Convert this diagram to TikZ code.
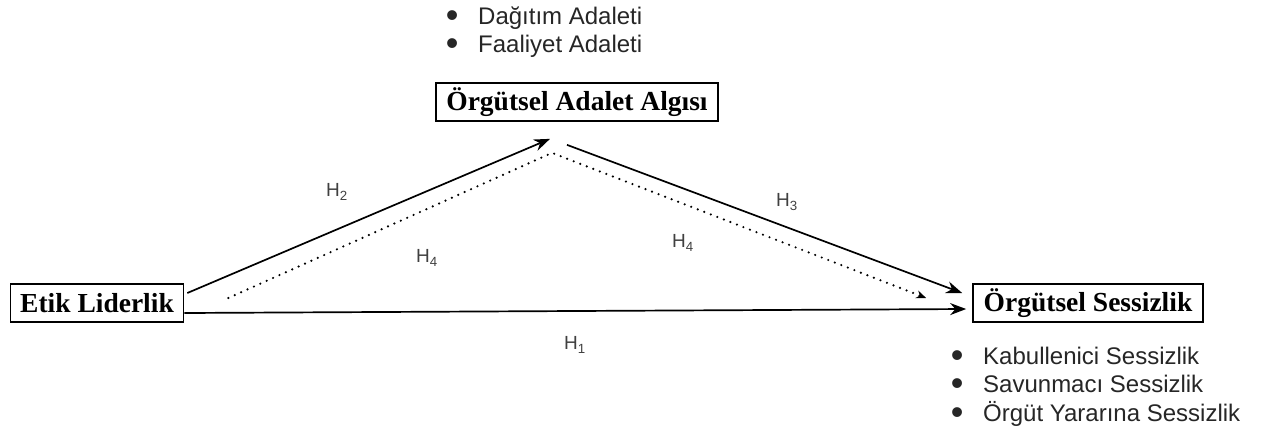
\documentclass[tikz,border=0pt]{standalone}
\usepackage{fontspec}
\setmainfont{Liberation Serif}
\setsansfont{Liberation Sans}
\usetikzlibrary{arrows.meta}
\newcommand{\bulitem}[1]{\makebox[0pt]{\raisebox{-3pt}{\scalebox{1.5}{•}}}\hspace{26pt}#1}
\begin{document}
\begin{tikzpicture}[x=1pt,y=-1pt,
  box/.style={draw, line width=1.7pt, font=\fontsize{27.5}{30}\selectfont\bfseries, inner sep=0pt, minimum height=38pt},
  arr/.style={line width=1.7pt, -{Stealth[length=16pt,width=12pt]}},
  dotarr/.style={line width=2.4pt, line cap=round, dash pattern=on 0pt off 7pt, -{Stealth[length=10pt,width=8pt]}},
  hlab/.style={font=\sffamily\fontsize{19}{22}\selectfont, text=black!75},
  blist/.style={font=\sffamily\fontsize{24}{28.5}\selectfont, text=black!85, inner sep=0pt, anchor=base west}
]
\useasboundingbox (0,0) rectangle (1263,429);

\node[box, minimum width=173pt] (etik) at (97,303) {Etik Liderlik};
\node[box, minimum width=282pt] (adalet) at (577,102) {Örgütsel Adalet Algısı};
\node[box, minimum width=230pt] (sess) at (1088,303) {Örgütsel Sessizlik};

\node[blist] (l1) at (452,24) {\begin{tabular}[t]{@{}l@{}}\bulitem{Dağıtım Adaleti}\\ \bulitem{Faaliyet Adaleti}\end{tabular}};
\node[blist] (l2) at (957,364) {\begin{tabular}[t]{@{}l@{}}\bulitem{Kabullenici Sessizlik}\\ \bulitem{Savunmacı Sessizlik}\\ \bulitem{Örgüt Yararına Sessizlik}\end{tabular}};

\coordinate (apex) at ([xshift=-25pt,yshift=-31pt]adalet.south);

\draw[arr] ([yshift=-10pt]etik.east) -- ([xshift=-6pt,yshift=-6pt]sess.west);
\draw[arr] ([xshift=3pt,yshift=10pt]etik.east) -- ([xshift=-27pt,yshift=-17pt]adalet.south);
\draw[arr] ([xshift=-10pt,yshift=-23pt]adalet.south) -- ([xshift=-10pt,yshift=10pt]sess.west);
\draw[dotarr] ([xshift=44pt,yshift=5pt]etik.east) -- (apex) -- ([xshift=-46pt,yshift=5pt]sess.west);

\node[hlab] (h2) at (337,192) {H\textsubscript{2}};
\node[hlab] (h4a) at (427,258) {H\textsubscript{4}};
\node[hlab] (h3) at (787,202) {H\textsubscript{3}};
\node[hlab] (h4b) at (683,243) {H\textsubscript{4}};
\node[hlab] (h1) at (575,345) {H\textsubscript{1}};
\end{tikzpicture}
\end{document}
